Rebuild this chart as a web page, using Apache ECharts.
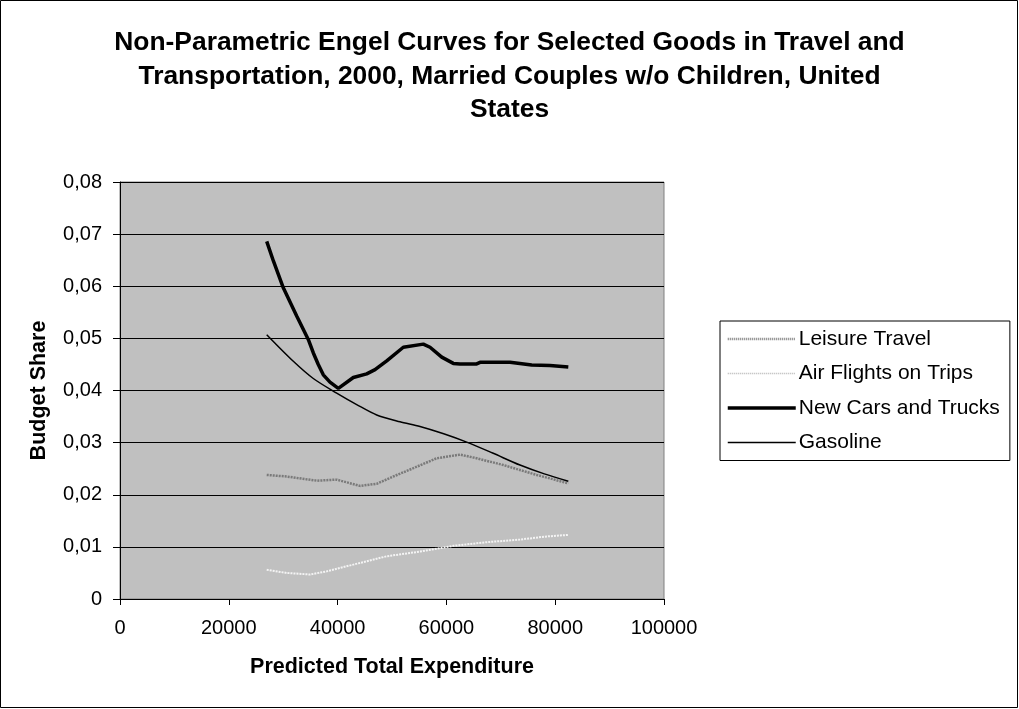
<!DOCTYPE html>
<html>
<head>
<meta charset="utf-8">
<script src="https://cdn.jsdelivr.net/npm/echarts@6/dist/echarts.min.js"></script>
<style>
html,body{margin:0;padding:0;background:#fff;}
#chart{width:1019px;height:709px;}
</style>
</head>
<body>
<div id="chart"></div>
<script>
// Data
const titleText = 'Non-Parametric Engel Curves for Selected Goods in Travel and\nTransportation, 2000, Married Couples w/o Children, United\nStates';
const seriesNames = ['Leisure Travel', 'Air Flights on Trips', 'New Cars and Trucks', 'Gasoline'];

const leisureX = [26970, 30640, 36160, 39830, 44120, 47190, 50240, 53920, 58220, 62500, 65570, 70460, 76600, 82410];
const leisureY = [0.0238, 0.0235, 0.0227, 0.0229, 0.0217, 0.0221, 0.0235, 0.0251, 0.0270, 0.0277, 0.0270, 0.0257, 0.0238, 0.0222];

const airX = [26970, 30640, 34930, 38000, 42890, 49030, 55150, 61270, 67410, 73530, 78430, 82410];
const airY = [0.0056, 0.0050, 0.0047, 0.0053, 0.0066, 0.0082, 0.0091, 0.0102, 0.0109, 0.0114, 0.0120, 0.0123];

const carsX = [26970, 28180, 30020, 32480, 34610, 35540, 36450, 37370, 38600, 40130, 42890, 45350, 46880, 49030, 52080, 55750, 56990, 59140, 61270, 62500, 65570, 66180, 71690, 75680, 79040, 82410];
const carsY = [0.0686, 0.0649, 0.0597, 0.0543, 0.0498, 0.0472, 0.0450, 0.0430, 0.0416, 0.0404, 0.0425, 0.0432, 0.0440, 0.0457, 0.0483, 0.0489, 0.0483, 0.0464, 0.0452, 0.0451, 0.0451, 0.0454, 0.0454, 0.0449, 0.0448, 0.0445];

const gasX = [26970, 31860, 35530, 39830, 43510, 47190, 51470, 55150, 59500, 63730, 68500, 73530, 78000, 82410];
const gasY = [0.0507, 0.0456, 0.0423, 0.0395, 0.0373, 0.0353, 0.0340, 0.0331, 0.0317, 0.0301, 0.0280, 0.0257, 0.0240, 0.0226];

const xMin = 0, xMax = 100000, xInterval = 20000;
const yMin = 0, yMax = 0.08, yInterval = 0.01;

function pairs(xs, ys){ return xs.map((x,i)=>[x, ys[i]]); }

const FONT = 'Arial, "Liberation Sans", sans-serif';
const chart = echarts.init(document.getElementById('chart'), null, {renderer:'canvas'});
chart.setOption({
  animation:false,
  backgroundColor:'#ffffff',
  textStyle:{fontFamily:FONT},
  title:{
    text:titleText,
    left:'center',
    top:21,
    textStyle:{fontFamily:FONT, fontSize:26.4, fontWeight:'bold', color:'#000', lineHeight:33.5}
  },
  graphic:[{
    type:'rect', silent:true,
    shape:{x:0.5, y:0.5, width:1017, height:707},
    style:{fill:'none', stroke:'#000', lineWidth:1}
  }],
  legend:{
    orient:'vertical',
    left:720, top:321,
    padding:[6,10,6,6],
    itemGap:10.5,
    itemWidth:68, itemHeight:14,
    borderColor:'#000', borderWidth:1,
    backgroundColor:'#fff',
    itemStyle:{opacity:0},
    textStyle:{fontFamily:FONT, fontSize:21, color:'#000', lineHeight:24, padding:[0,0,0,-2]},
    data:[
      {name:seriesNames[0], lineStyle:{color:'#7a7a7a', width:2.5, type:[1,1]}},
      {name:seriesNames[1], lineStyle:{color:'#b4b4b4', width:1.5, type:[1,1]}},
      {name:seriesNames[2], lineStyle:{color:'#000', width:3.5}},
      {name:seriesNames[3], lineStyle:{color:'#000', width:1.5}}
    ]
  },
  grid:{
    left:120, right:355, top:182, bottom:110,
    show:true, backgroundColor:'#c0c0c0', borderColor:'#808080', borderWidth:1,
    containLabel:false
  },
  xAxis:{
    type:'value', min:xMin, max:xMax, interval:xInterval,
    name:'Predicted Total Expenditure', nameLocation:'middle', nameGap:57,
    nameTextStyle:{fontFamily:FONT, fontSize:21.5, fontWeight:'bold', color:'#000'},
    axisLine:{show:true, onZero:false, lineStyle:{color:'#000', width:1}},
    axisTick:{show:true, inside:false, length:6, lineStyle:{color:'#000'}},
    axisLabel:{fontFamily:FONT, fontSize:20, color:'#000', margin:19, formatter:v => String(v)},
    splitLine:{show:false}
  },
  yAxis:{
    type:'value', min:yMin, max:yMax, interval:yInterval,
    name:'Budget Share', nameLocation:'middle', nameGap:70, nameRotate:90,
    nameTextStyle:{fontFamily:FONT, fontSize:21.5, fontWeight:'bold', color:'#000'},
    axisLine:{show:true, lineStyle:{color:'#000', width:1}},
    axisTick:{show:true, inside:false, length:7, lineStyle:{color:'#000'}},
    axisLabel:{fontFamily:FONT, fontSize:20, color:'#000', margin:18,
      formatter:v => v === 0 ? '0' : v.toFixed(2).replace('.', ',')},
    splitLine:{show:true, lineStyle:{color:'#000', width:1}}
  },
  series:[
    {name:seriesNames[0], type:'line', symbol:'none', data:pairs(leisureX, leisureY),
     lineStyle:{color:'#7a7a7a', width:2.5, type:[2,1]}, itemStyle:{color:'#7a7a7a'}},
    {name:seriesNames[1], type:'line', symbol:'none', data:pairs(airX, airY),
     lineStyle:{color:'#f4f4f4', width:2, type:[2,1]}, itemStyle:{color:'#d8d8d8'}},
    {name:seriesNames[2], type:'line', symbol:'none', data:pairs(carsX, carsY),
     lineStyle:{color:'#000', width:3.5}, itemStyle:{color:'#000'}},
    {name:seriesNames[3], type:'line', symbol:'none', smooth:0.3, data:pairs(gasX, gasY),
     lineStyle:{color:'#000', width:1.5}, itemStyle:{color:'#000'}}
  ]
});
</script>
</body>
</html>
